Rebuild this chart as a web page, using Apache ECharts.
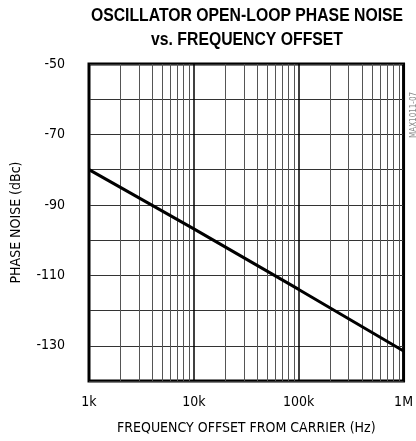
<!DOCTYPE html>
<html>
<head>
<meta charset="utf-8">
<script src="https://cdn.jsdelivr.net/npm/echarts@6/dist/echarts.min.js"></script>
<style>
  html, body { margin: 0; padding: 0; background: #fff; }
  #chart { width: 416px; height: 441px; }
</style>
</head>
<body>
<div id="chart"></div>
<script>
// frequency offset (Hz) and open-loop phase noise (dBc)
const freqs = [1000, 10000, 100000, 1000000];
const noise = [-80, -96.8, -114, -131.5];
const xTickLabels = { 1000: "1k", 10000: "10k", 100000: "100k", 1000000: "1M" };
const yTickLabels = [-50, -70, -90, -110, -130];
const minorFreqs = [];
for (const d of [1000, 10000, 100000]) {
  for (let m = 2; m <= 9; m++) minorFreqs.push(d * m);
}

const font = '"DejaVu Sans Condensed", "Liberation Sans", sans-serif';
// Arial Narrow look: Liberation Sans squeezed horizontally
const titleFont = 'bold 19px "Liberation Sans", Arial, sans-serif';

let myChart = echarts.init(document.getElementById("chart"));
myChart.setOption({
  animation: false,
  graphic: [
    {
      type: "text",
      x: 247,
      y: 16,
      scaleX: 0.83,
      style: {
        text: "OSCILLATOR OPEN-LOOP PHASE NOISE",
        font: titleFont,
        fill: "#000",
        textAlign: "center",
        textVerticalAlign: "middle"
      }
    },
    {
      type: "text",
      x: 247,
      y: 40,
      scaleX: 0.83,
      style: {
        text: "vs. FREQUENCY OFFSET",
        font: titleFont,
        fill: "#000",
        textAlign: "center",
        textVerticalAlign: "middle"
      }
    },
    {
      type: "text",
      x: 410,
      y: 138,
      rotation: Math.PI / 2,
      style: {
        text: "MAX1011-07",
        font: "8px " + font,
        fill: "#888",
        textAlign: "left",
        textVerticalAlign: "top"
      }
    }
  ],
  grid: {
    left: 89,
    right: 10,
    top: 64,
    bottom: 60,
    show: true,
    borderColor: "#000",
    borderWidth: 3
  },
  xAxis: {
    type: "log",
    logBase: 10,
    min: 1000,
    max: 1000000,
    name: "FREQUENCY OFFSET FROM CARRIER (Hz)",
    nameLocation: "middle",
    nameGap: 40,
    nameTextStyle: { fontFamily: font, fontSize: 14, color: "#000" },
    axisLine: { show: false },
    axisTick: { show: false },
    axisLabel: {
      margin: 14,
      fontFamily: font,
      fontSize: 14,
      color: "#000",
      formatter: (v) => xTickLabels[Math.round(v)] || ""
    },
    splitLine: { show: true, lineStyle: { color: "#000", width: 1.5 } }
  },
  yAxis: {
    type: "value",
    min: -140,
    max: -50,
    interval: 10,
    name: "PHASE NOISE (dBc)",
    nameLocation: "middle",
    nameGap: 66,
    nameTextStyle: { fontFamily: font, fontSize: 14, color: "#000" },
    axisLine: { show: false },
    axisTick: { show: false },
    axisLabel: {
      margin: 24,
      fontFamily: font,
      fontSize: 14,
      color: "#000",
      formatter: (v) => (yTickLabels.includes(v) ? String(v) : "")
    },
    splitLine: { show: true, lineStyle: { color: "#333", width: 1 } }
  },
  series: [
    {
      type: "line",
      data: [],
      z: 1,
      silent: true,
      markLine: {
        silent: true,
        symbol: "none",
        label: { show: false },
        lineStyle: { color: "#555", width: 1, type: "solid" },
        data: minorFreqs.map((f) => ({ xAxis: f }))
      }
    },
    {
      type: "line",
      data: freqs.map((f, i) => [f, noise[i]]),
      z: 5,
      showSymbol: false,
      lineStyle: { color: "#000", width: 3 }
    }
  ]
});
</script>
</body>
</html>
